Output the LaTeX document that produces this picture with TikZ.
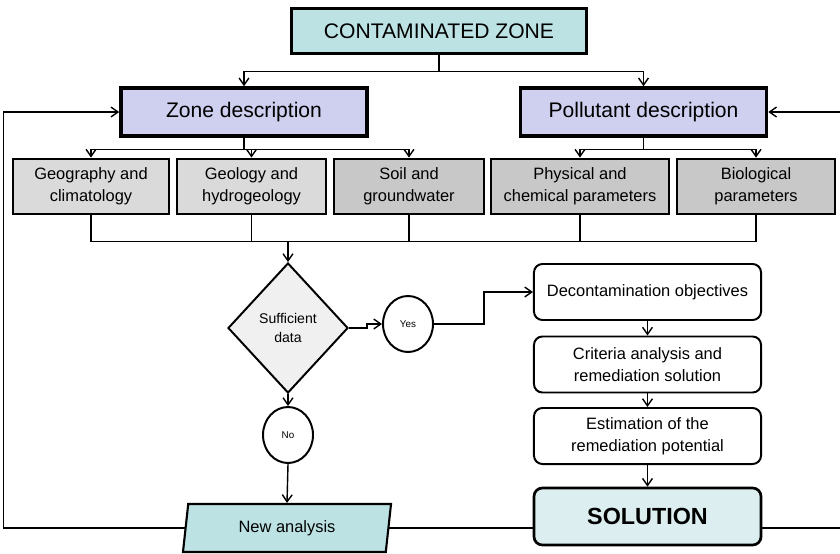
\documentclass[tikz,border=0pt]{standalone}
\usepackage{fontspec}
\setmainfont{Liberation Sans}
\usetikzlibrary{shapes.geometric,arrows.meta}

\begin{document}
\begin{tikzpicture}[x=0.025cm, y=-0.025cm,
  every node/.style={align=center, font=\fontsize{11.7}{15.6}\selectfont},
  headbox/.style={draw, line width=2.5pt, minimum height=1.2cm, font=\fontsize{15}{18}\selectfont},
  topicbox/.style={draw, line width=2pt, minimum height=1.375cm, inner sep=1pt},
  stepbox/.style={draw, line width=1.4pt, rounded corners=6pt, fill=white, minimum width=5.675cm, minimum height=1.4cm},
  answer/.style={draw, ellipse, line width=1.4pt, minimum width=1.25cm, minimum height=1.4cm, inner sep=0pt, font=\fontsize{7}{8}\selectfont},
  wire/.style={line width=1pt},
  conn/.style={line width=1pt, -{Straight Barb[length=5pt, width=7pt]}}]
  % Site and pollutant survey
  \definecolor{lagoon}{HTML}{BCE2E4}
  \definecolor{lilac}{HTML}{CFCFEF}
  \definecolor{pebble}{HTML}{DADADA}
  \definecolor{stone}{HTML}{C8C8C8}
  \definecolor{mist}{HTML}{F0F0F0}
  \definecolor{foam}{HTML}{DCEEF0}
  \useasboundingbox (0,0) rectangle (840,553);

  \node[headbox, fill=lagoon, minimum width=7.375cm, minimum height=1.125cm] (cz) at (439,31) {CONTAMINATED ZONE};
  \node[headbox, fill=lilac, minimum width=6.15cm] (zone) at (244,112) {Zone description};
  \node[headbox, fill=lilac, minimum width=6.15cm] (poll) at (643.5,112) {Pollutant description};

  \node[topicbox, fill=pebble, minimum width=3.9cm] (geo) at (91,186.5) {Geography and\\climatology};
  \node[topicbox, fill=pebble, minimum width=3.725cm] (geol) at (251.5,186.5) {Geology and\\hydrogeology};
  \node[topicbox, fill=stone, minimum width=3.75cm] (soil) at (409,186.5) {Soil and\\groundwater};
  \node[topicbox, fill=stone, minimum width=4.45cm] (phys) at (580,186.5) {Physical and\\chemical parameters};
  \node[topicbox, fill=stone, minimum width=3.95cm] (bio) at (756,186.5) {Biological\\parameters};

  \draw[wire] (cz.south) -- ++(0,16) coordinate (topbus);
  \draw[conn] (topbus) -| (zone.north);
  \draw[conn] (topbus) -| (poll.north);
  \draw[wire] (zone.south) -- ++(0,12) coordinate (zbus);
  \foreach \t in {geo,geol,soil} \draw[conn] (zbus) -| (\t.north);
  \draw[wire] (poll.south) -- ++(0,12) coordinate (pbus);
  \foreach \t in {phys,bio} \draw[conn] (pbus) -| (\t.north);

  % Decision
  \node[draw, diamond, fill=mist, line width=1.4pt, minimum width=3cm, minimum height=3.25cm, inner sep=0pt, font=\fontsize{10}{13.5}\selectfont] (suff) at (288,328) {Sufficient\\data};
  \node[answer] (yes) at (408,324) {Yes};
  \node[answer] (no) at (288,435) {No};
  \node[draw, trapezium, trapezium left angle=78, trapezium right angle=102, trapezium stretches body, fill=lagoon, line width=1.5pt, minimum width=5.2cm, minimum height=1.2cm] (newan) at (287,528) {New analysis};

  \draw[wire] (geo.south) -- ++(0,26) coordinate (lowbus) -| (bio.south);
  \foreach \t in {geol,soil,phys} \draw[wire] (\t.south) -- (\t.south |- lowbus);
  \draw[conn] (lowbus -| suff.north) -- (suff.north);
  \draw[conn] (suff.east) -- ++(18,0) |- (yes.west);
  \draw[conn] (suff.south) -- (no.north);
  \draw[conn] (no.south) -- (newan.north);

  % Remediation chain
  \node[stepbox] (deco) at (647.5,292) {Decontamination objectives};
  \node[stepbox] (crit) at (647.5,364.5) {Criteria analysis and\\remediation solution};
  \node[stepbox] (est) at (647.5,436) {Estimation of the\\remediation potential};
  \node[stepbox, fill=foam, line width=1.9pt, minimum height=1.425cm, font=\bfseries\fontsize{16.6}{20}\selectfont] (sol) at (647.5,516.5) {SOLUTION};

  \draw[conn] (yes.east) -- ++(50,0) |- (deco.west);
  \draw[conn] (deco) -- (crit);
  \draw[conn] (crit) -- (est);
  \draw[conn] (est) -- (sol);

  % Feedback loops
  \draw[conn] (newan.west) -- ++(-181,0) |- (zone.west);
  \draw[wire] (newan.east) -- (newan.east -| sol.west);
  \draw[conn] (sol.east |- newan.east) -- ++(80,0) |- (poll.east);
\end{tikzpicture}
\end{document}
